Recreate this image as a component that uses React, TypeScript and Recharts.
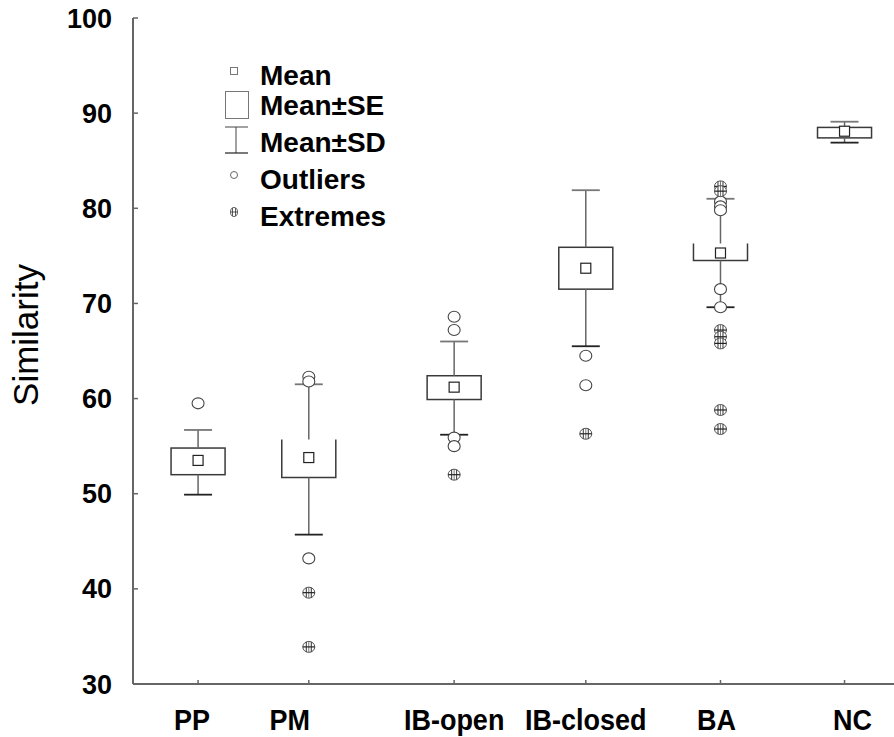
import React from 'react';
import {
  ComposedChart, XAxis, YAxis, Scatter, ReferenceArea, ReferenceLine, Legend,
} from 'recharts';

const categories = ['PP', 'PM', 'IB-open', 'IB-closed', 'BA', 'NC'];
const xPositions = [8.55, 23.1, 42.2, 59.5, 77.2, 93.5];
const means = [53.5, 53.8, 61.2, 73.7, 75.3, 88.1];
const seLow = [52.0, 51.7, 59.9, 71.5, 74.5, 87.4];
const seHigh = [54.8, 55.7, 62.4, 75.9, 76.3, 88.5];
const sdLow = [49.9, 45.7, 56.2, 65.5, 69.6, 86.9];
const sdHigh = [56.7, 61.5, 66.0, 81.9, 81.0, 89.1];
const outliers = [
  [59.5],
  [62.3, 61.8, 43.2],
  [68.6, 67.2, 55.9, 55.0],
  [64.5, 61.4],
  [80.7, 80.2, 79.8, 71.5, 69.6],
  [],
];
const extremes = [
  [],
  [39.6, 33.9],
  [52.0],
  [56.3],
  [82.3, 81.8, 67.2, 66.5, 65.8, 58.8, 56.8],
  [],
];
const yTicks = [30, 40, 50, 60, 70, 80, 90, 100];
const legendItems = ['Mean', 'Mean±SE', 'Mean±SD', 'Outliers', 'Extremes'];

// style constants
const openTopBox = [false, true, false, false, true, false];
const labelShift = [-6, -19, 0, 0, -4, 8];
const BOX_HALF = 3.55;
const CAP_HALF = 1.84;
const FONT = 'Arial, "Liberation Sans", sans-serif';
const BOX_STROKE = '#3a3a3a';
const WHISKER = '#666';

const meanData = categories.map((c, i) => ({ x: xPositions[i], y: means[i] }));
const outlierData = categories.flatMap((c, i) => outliers[i].map((v) => ({ x: xPositions[i], y: v })));
const extremeData = categories.flatMap((c, i) => extremes[i].map((v) => ({ x: xPositions[i], y: v })));

const MeanShape = (p: any) => (
  <rect x={p.cx - 5} y={p.cy - 5} width={10} height={10} fill="#fff" stroke="#222" strokeWidth={1.2} />
);
const OutlierShape = (p: any) => (
  <ellipse cx={p.cx} cy={p.cy} rx={6} ry={5.5} fill="#fff" stroke="#444" strokeWidth={1.1} />
);
const ExtremeShape = (p: any) => {
  const { cx, cy } = p;
  return (
    <g>
      <ellipse cx={cx} cy={cy} rx={6} ry={5.5} fill="#fff" stroke="#555" strokeWidth={1} />
      <line x1={cx - 2.5} y1={cy - 5} x2={cx - 2.5} y2={cy + 5} stroke="#333" strokeWidth={1} />
      <line x1={cx + 2.5} y1={cy - 5} x2={cx + 2.5} y2={cy + 5} stroke="#333" strokeWidth={1} />
      <line x1={cx} y1={cy - 5.5} x2={cx} y2={cy + 5.5} stroke="#555" strokeWidth={0.8} />
      <line x1={cx - 6} y1={cy} x2={cx + 6} y2={cy} stroke="#222" strokeWidth={1.2} />
    </g>
  );
};

const makeBoxShape = (open: boolean) => (p: any) => {
  const { x, y, width, height } = p;
  if (open) {
    return (
      <path d={`M${x},${y} L${x},${y + height} L${x + width},${y + height} L${x + width},${y}`}
        fill="none" stroke={BOX_STROKE} strokeWidth={1.5} />
    );
  }
  return <rect x={x} y={y} width={width} height={height} fill="none" stroke={BOX_STROKE} strokeWidth={1.5} />;
};

const XTick = (p: any) => {
  const idx = xPositions.indexOf(p.payload.value);
  const label = idx >= 0 ? categories[idx] : '';
  const shift = idx >= 0 ? labelShift[idx] : 0;
  return (
    <g transform={`translate(${p.x + shift},${p.y}) scale(1,1.07)`}>
      <text x={0} y={0} dy="0.71em" textAnchor="middle" fontFamily={FONT}
        fontWeight="bold" fontSize={27} fill="#000">
        {label}
      </text>
    </g>
  );
};

const YLabel = (p: any) => {
  const vb = p.viewBox || { x: 0, y: 18, width: 133, height: 666 };
  const cx = vb.x + 38;
  const cy = vb.y + vb.height / 2 - 16;
  return (
    <text transform={`translate(${cx},${cy}) rotate(-90)`} textAnchor="middle" fontFamily={FONT}
      fontSize={35} fill="#000">
      Similarity
    </text>
  );
};

const LegendContent = () => {
  const baselines = [30, 60, 97, 134, 171];
  return (
    <svg width={200} height={180} style={{ overflow: 'visible' }}>
      <rect x={8.5} y={12.5} width={7} height={7} fill="#fff" stroke="#777" strokeWidth={1} />
      <rect x={3.5} y={36.5} width={23} height={27} fill="#fff" stroke="#777" strokeWidth={1} />
      <line x1={3} y1={72} x2={26} y2={72} stroke="#444" strokeWidth={1} />
      <line x1={14} y1={72} x2={14} y2={98} stroke="#444" strokeWidth={1} />
      <line x1={3} y1={98} x2={26} y2={98} stroke="#222" strokeWidth={1.2} />
      <circle cx={12} cy={120} r={3.5} fill="#fff" stroke="#666" strokeWidth={1} />
      <ellipse cx={12} cy={157} rx={3.5} ry={4.5} fill="#fff" stroke="#666" strokeWidth={1} />
      <line x1={10.5} y1={153} x2={10.5} y2={161} stroke="#333" strokeWidth={0.8} />
      <line x1={13.5} y1={153} x2={13.5} y2={161} stroke="#333" strokeWidth={0.8} />
      <line x1={8.5} y1={157} x2={15.5} y2={157} stroke="#333" strokeWidth={0.8} />
      {legendItems.map((t, i) => (
        <text key={t} x={38} y={baselines[i]} fontFamily={FONT} fontWeight="bold" fontSize={28} fill="#000">
          {t}
        </text>
      ))}
    </svg>
  );
};

export default function App() {
  return (
    <div style={{ position: 'absolute', left: 0, top: 0, width: 894, height: 737, background: '#fff' }}>
      <ComposedChart width={894} height={737} margin={{ top: 18, right: 0, bottom: 0, left: 0 }}>
        <XAxis
          type="number"
          dataKey="x"
          domain={[0, 100]}
          ticks={xPositions}
          allowDataOverflow
          axisLine={{ stroke: '#666', strokeWidth: 2 }}
          tickLine={{ stroke: '#666', strokeWidth: 1.5 }}
          tickSize={-4}
          tickMargin={29}
          height={53}
          tick={<XTick />}
          interval={0}
        />
        <YAxis
          type="number"
          dataKey="y"
          domain={[30, 100]}
          ticks={yTicks}
          allowDataOverflow
          width={133}
          axisLine={{ stroke: '#666', strokeWidth: 2 }}
          tickLine={{ stroke: '#666', strokeWidth: 1.5 }}
          tickSize={-5}
          tickMargin={26}
          tick={{ fontFamily: FONT, fontWeight: 'bold', fontSize: 27, fill: '#000' }}
          label={{ content: YLabel }}
          interval={0}
        />
        {categories.map((c, i) => (
          <ReferenceArea
            key={`box-${c}`}
            x1={xPositions[i] - BOX_HALF}
            x2={xPositions[i] + BOX_HALF}
            y1={seLow[i]}
            y2={seHigh[i]}
            shape={makeBoxShape(openTopBox[i])}
            ifOverflow="visible"
          />
        ))}
        {categories.map((c, i) => (
          <ReferenceLine key={`wt-${c}`} segment={[{ x: xPositions[i], y: seHigh[i] }, { x: xPositions[i], y: sdHigh[i] }]}
            stroke={WHISKER} strokeWidth={1.5} ifOverflow="visible" />
        ))}
        {categories.map((c, i) => (
          <ReferenceLine key={`wb-${c}`} segment={[{ x: xPositions[i], y: seLow[i] }, { x: xPositions[i], y: sdLow[i] }]}
            stroke={WHISKER} strokeWidth={1.5} ifOverflow="visible" />
        ))}
        {categories.map((c, i) => (
          <ReferenceLine key={`ct-${c}`} segment={[{ x: xPositions[i] - CAP_HALF, y: sdHigh[i] }, { x: xPositions[i] + CAP_HALF, y: sdHigh[i] }]}
            stroke="#777" strokeWidth={1.8} ifOverflow="visible" />
        ))}
        {categories.map((c, i) => (
          <ReferenceLine key={`cb-${c}`} segment={[{ x: xPositions[i] - CAP_HALF, y: sdLow[i] }, { x: xPositions[i] + CAP_HALF, y: sdLow[i] }]}
            stroke="#222" strokeWidth={1.8} ifOverflow="visible" />
        ))}
        <Scatter data={outlierData} dataKey="y" shape={OutlierShape} isAnimationActive={false} />
        <Scatter data={extremeData} dataKey="y" shape={ExtremeShape} isAnimationActive={false} />
        <Scatter data={meanData} dataKey="y" shape={MeanShape} isAnimationActive={false} />
        <Legend
          layout="vertical"
          align="center"
          verticalAlign="middle"
          content={<LegendContent />}
          wrapperStyle={{ position: 'absolute', left: 222, top: 55, width: 200, height: 180 }}
        />
      </ComposedChart>
    </div>
  );
}
